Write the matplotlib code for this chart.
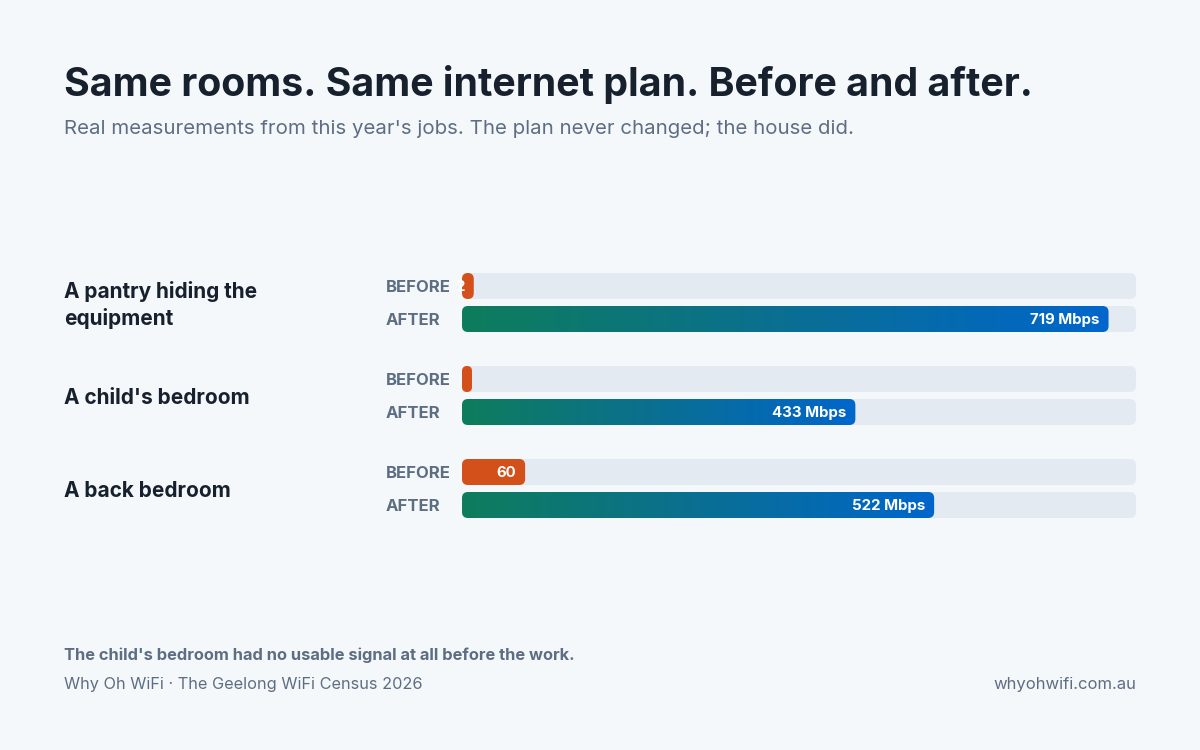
import matplotlib.pyplot as plt
import numpy as np
from matplotlib.patches import FancyBboxPatch
from matplotlib.colors import LinearSegmentedColormap

plt.rcParams['font.family'] = ['Inter', 'DejaVu Sans']

# data
rooms = ['A pantry hiding the\nequipment', "A child's bedroom", 'A back bedroom']
before = [2, 0, 60]
after = [719, 433, 522]
before_labels = ['2', '', '60']
after_labels = ['719 Mbps', '433 Mbps', '522 Mbps']
scale_max = 750

BG = '#F5F8FB'
TRACK = '#E3EAF2'
ORANGE = '#D4501A'
INK = '#17212D'
MUTED = '#5E6E82'
grad = LinearSegmentedColormap.from_list('g', ['#0E7D5C', '#0A6F92', '#0066CC'])

fig = plt.figure(figsize=(12, 7.5), dpi=100, facecolor=BG)

# bar axes: track spans x 462..1136 px
x_min = -11.3
ax = fig.add_axes([462 / 1200, 1 - 565 / 750, 674 / 1200, 316.2 / 750])
ax.set_xlim(x_min, scale_max)
ax.set_ylim(3.0, -0.4)
ax.axis('off')
ax.set_facecolor('none')

xu = (scale_max - x_min) / 674      # x units per pixel
yu = 1 / 93                          # y units per pixel
aspect = yu / xu
bar_h = 26 * yu
radius = 6 * xu
pad = 9 * xu


def rounded(x0, y, w, color, z=1):
    r = min(radius, w / 2)
    p = FancyBboxPatch((x0, y - bar_h / 2), w, bar_h,
                       boxstyle=f'round,pad=0,rounding_size={r}',
                       mutation_aspect=aspect, linewidth=0, facecolor=color, zorder=z)
    ax.add_patch(p)
    return p


for g, room in enumerate(rooms):
    yb = g
    ya = g + 33 * yu
    # tracks
    rounded(x_min, yb, scale_max - x_min, TRACK)
    rounded(x_min, ya, scale_max - x_min, TRACK)
    # before bar
    rounded(x_min, yb, before[g] - x_min, ORANGE, z=2)
    if before_labels[g]:
        ax.text(before[g] - pad, yb + 1 * yu, before_labels[g], ha='right', va='center',
                color='white', fontsize=10.8, fontweight='bold', zorder=4)
    # after bar with gradient
    p = rounded(x_min, ya, after[g] - x_min, 'none', z=0)
    im = ax.imshow(np.linspace(0, 1, 256).reshape(1, -1), cmap=grad, aspect='auto',
                   extent=(x_min, after[g], ya + bar_h / 2, ya - bar_h / 2),
                   interpolation='bilinear', zorder=3)
    im.set_clip_path(p)
    ax.text(after[g] - pad, ya + 1 * yu, after_labels[g], ha='right', va='center',
            color='white', fontsize=10.8, fontweight='bold', zorder=4)
    # row labels
    ax.text(-(462 - 386) * xu + x_min, yb + 1.5 * yu, 'BEFORE', ha='left', va='center',
            color=MUTED, fontsize=12, fontweight='bold', clip_on=False)
    ax.text(-(462 - 386) * xu + x_min, ya + 1.5 * yu, 'AFTER', ha='left', va='center',
            color=MUTED, fontsize=12, fontweight='bold', clip_on=False)
    ax.text(-(462 - 64) * xu + x_min, (yb + ya) / 2 + 2.5 * yu, room, ha='left', va='center',
            color=INK, fontsize=15, fontweight='bold', linespacing=1.35, clip_on=False)

ax.set_xlim(x_min, scale_max)
ax.set_ylim(3.0, -0.4)

# titles
fig.text(64 / 1200, 1 - 85 / 750, 'Same rooms. Same internet plan. Before and after.',
         ha='left', va='center', color=INK, fontsize=28.3, fontweight='bold')
fig.text(64 / 1200, 1 - 129 / 750,
         "Real measurements from this year's jobs. The plan never changed; the house did.",
         ha='left', va='center', color=MUTED, fontsize=14.7)

# footer
fig.text(64 / 1200, 1 - 655 / 750,
         "The child's bedroom had no usable signal at all before the work.",
         ha='left', va='center', color=MUTED, fontsize=11.85, fontweight='bold')
fig.text(64 / 1200, 1 - 685 / 750, 'Why Oh WiFi \u00b7 The Geelong WiFi Census 2026',
         ha='left', va='center', color=MUTED, fontsize=11.75)
fig.text(1136 / 1200, 1 - 685 / 750, 'whyohwifi.com.au',
         ha='right', va='center', color=MUTED, fontsize=12)

fig.savefig('out.png', dpi=100, facecolor=BG)
